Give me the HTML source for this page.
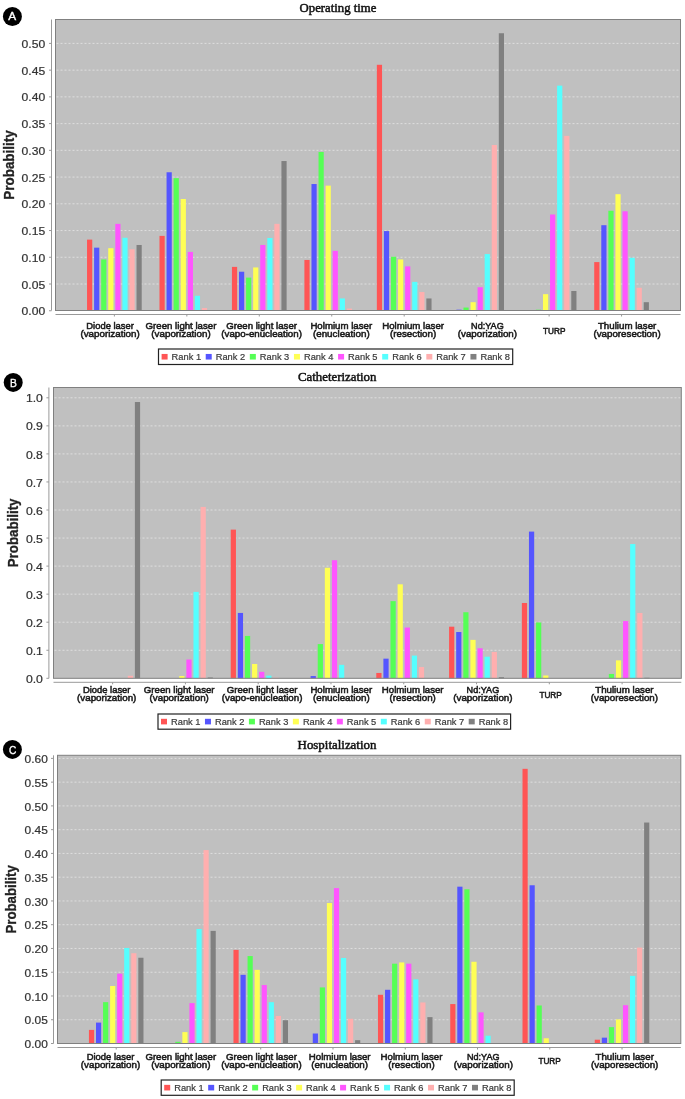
<!DOCTYPE html>
<html><head><meta charset="utf-8"><title>Charts</title><style>
html,body{margin:0;padding:0;background:#fff;}
body{width:685px;height:1099px;overflow:hidden;}
svg{display:block;will-change:transform;}
.tl{font-family:"Liberation Sans",sans-serif;font-size:10.6px;fill:#333;stroke:#333;stroke-width:0.2px;text-anchor:end;}
.cl{font-family:"Liberation Sans",sans-serif;font-size:9.8px;fill:#1a1a1a;stroke:#1a1a1a;stroke-width:0.55px;text-anchor:middle;}
.al{font-family:"Liberation Sans",sans-serif;font-size:14.4px;font-weight:bold;fill:#222;stroke:#222;stroke-width:0.3px;text-anchor:middle;}
.tt{font-family:"Liberation Serif",serif;font-size:13px;fill:#111;stroke:#111;stroke-width:0.5px;text-anchor:middle;}
.cc{font-family:"Liberation Sans",sans-serif;font-size:11.8px;fill:#fff;stroke:#fff;stroke-width:0.35px;text-anchor:middle;}
.lg{font-family:"Liberation Sans",sans-serif;font-size:9.3px;fill:#3a3a3a;stroke:#3a3a3a;stroke-width:0.2px;}
</style></head>
<body>
<svg width="685" height="1099" viewBox="0 0 685 1099">
<rect x="0" y="0" width="685" height="1099" fill="#fff"/>
<rect x="55.5" y="19.5" width="625.00" height="291.00" fill="#c0c0c0"/>
<line x1="56.5" y1="284.01" x2="679.5" y2="284.01" stroke="#dedede" stroke-width="1" stroke-dasharray="2,2"/>
<line x1="56.5" y1="257.28" x2="679.5" y2="257.28" stroke="#dedede" stroke-width="1" stroke-dasharray="2,2"/>
<line x1="56.5" y1="230.54" x2="679.5" y2="230.54" stroke="#dedede" stroke-width="1" stroke-dasharray="2,2"/>
<line x1="56.5" y1="203.81" x2="679.5" y2="203.81" stroke="#dedede" stroke-width="1" stroke-dasharray="2,2"/>
<line x1="56.5" y1="177.07" x2="679.5" y2="177.07" stroke="#dedede" stroke-width="1" stroke-dasharray="2,2"/>
<line x1="56.5" y1="150.34" x2="679.5" y2="150.34" stroke="#dedede" stroke-width="1" stroke-dasharray="2,2"/>
<line x1="56.5" y1="123.60" x2="679.5" y2="123.60" stroke="#dedede" stroke-width="1" stroke-dasharray="2,2"/>
<line x1="56.5" y1="96.87" x2="679.5" y2="96.87" stroke="#dedede" stroke-width="1" stroke-dasharray="2,2"/>
<line x1="56.5" y1="70.13" x2="679.5" y2="70.13" stroke="#dedede" stroke-width="1" stroke-dasharray="2,2"/>
<line x1="56.5" y1="43.40" x2="679.5" y2="43.40" stroke="#dedede" stroke-width="1" stroke-dasharray="2,2"/>
<rect x="87.03" y="239.63" width="5.20" height="71.12" fill="#ff5555"/>
<rect x="94.10" y="247.66" width="5.20" height="63.09" fill="#5555ff"/>
<rect x="101.17" y="259.42" width="5.20" height="51.33" fill="#55ff55"/>
<rect x="108.24" y="248.19" width="5.20" height="62.56" fill="#ffff55"/>
<rect x="115.31" y="223.86" width="5.20" height="86.89" fill="#ff55ff"/>
<rect x="122.38" y="237.76" width="5.20" height="72.99" fill="#55ffff"/>
<rect x="129.45" y="249.26" width="5.20" height="61.49" fill="#ffafaf"/>
<rect x="136.52" y="244.98" width="5.20" height="65.77" fill="#808080"/>
<rect x="159.49" y="235.89" width="5.20" height="74.86" fill="#ff5555"/>
<rect x="166.56" y="172.26" width="5.20" height="138.49" fill="#5555ff"/>
<rect x="173.63" y="178.14" width="5.20" height="132.61" fill="#55ff55"/>
<rect x="180.70" y="199.00" width="5.20" height="111.75" fill="#ffff55"/>
<rect x="187.77" y="251.93" width="5.20" height="58.82" fill="#ff55ff"/>
<rect x="194.84" y="295.78" width="5.20" height="14.97" fill="#55ffff"/>
<rect x="201.91" y="308.08" width="5.20" height="2.67" fill="#ffafaf"/>
<rect x="231.94" y="266.90" width="5.20" height="43.85" fill="#ff5555"/>
<rect x="239.01" y="271.72" width="5.20" height="39.03" fill="#5555ff"/>
<rect x="246.08" y="277.60" width="5.20" height="33.15" fill="#55ff55"/>
<rect x="253.15" y="267.44" width="5.20" height="43.31" fill="#ffff55"/>
<rect x="260.22" y="244.98" width="5.20" height="65.77" fill="#ff55ff"/>
<rect x="267.29" y="238.03" width="5.20" height="72.72" fill="#55ffff"/>
<rect x="274.36" y="223.86" width="5.20" height="86.89" fill="#ffafaf"/>
<rect x="281.43" y="161.03" width="5.20" height="149.72" fill="#808080"/>
<rect x="304.40" y="259.95" width="5.20" height="50.80" fill="#ff5555"/>
<rect x="311.47" y="184.03" width="5.20" height="126.72" fill="#5555ff"/>
<rect x="318.54" y="151.94" width="5.20" height="158.81" fill="#55ff55"/>
<rect x="325.61" y="185.63" width="5.20" height="125.12" fill="#ffff55"/>
<rect x="332.68" y="250.86" width="5.20" height="59.89" fill="#ff55ff"/>
<rect x="339.75" y="298.45" width="5.20" height="12.30" fill="#55ffff"/>
<rect x="346.82" y="308.61" width="5.20" height="2.14" fill="#ffafaf"/>
<rect x="376.85" y="64.79" width="5.20" height="245.96" fill="#ff5555"/>
<rect x="383.92" y="231.08" width="5.20" height="79.67" fill="#5555ff"/>
<rect x="390.99" y="256.75" width="5.20" height="54.00" fill="#55ff55"/>
<rect x="398.06" y="259.42" width="5.20" height="51.33" fill="#ffff55"/>
<rect x="405.13" y="266.37" width="5.20" height="44.38" fill="#ff55ff"/>
<rect x="412.20" y="281.88" width="5.20" height="28.87" fill="#55ffff"/>
<rect x="419.27" y="292.04" width="5.20" height="18.71" fill="#ffafaf"/>
<rect x="426.34" y="298.45" width="5.20" height="12.30" fill="#808080"/>
<rect x="456.38" y="309.68" width="5.20" height="1.07" fill="#5555ff"/>
<rect x="463.45" y="307.54" width="5.20" height="3.21" fill="#55ff55"/>
<rect x="470.52" y="302.19" width="5.20" height="8.56" fill="#ffff55"/>
<rect x="477.59" y="287.22" width="5.20" height="23.53" fill="#ff55ff"/>
<rect x="484.66" y="254.07" width="5.20" height="56.68" fill="#55ffff"/>
<rect x="491.73" y="144.99" width="5.20" height="165.76" fill="#ffafaf"/>
<rect x="498.80" y="33.24" width="5.20" height="277.51" fill="#808080"/>
<rect x="535.91" y="309.68" width="5.20" height="1.07" fill="#55ff55"/>
<rect x="542.98" y="294.17" width="5.20" height="16.58" fill="#ffff55"/>
<rect x="550.05" y="214.50" width="5.20" height="96.25" fill="#ff55ff"/>
<rect x="557.12" y="85.64" width="5.20" height="225.11" fill="#55ffff"/>
<rect x="564.19" y="135.90" width="5.20" height="174.85" fill="#ffafaf"/>
<rect x="571.26" y="290.97" width="5.20" height="19.78" fill="#808080"/>
<rect x="594.22" y="262.09" width="5.20" height="48.66" fill="#ff5555"/>
<rect x="601.29" y="225.20" width="5.20" height="85.55" fill="#5555ff"/>
<rect x="608.36" y="210.76" width="5.20" height="99.99" fill="#55ff55"/>
<rect x="615.43" y="194.19" width="5.20" height="116.56" fill="#ffff55"/>
<rect x="622.50" y="211.30" width="5.20" height="99.45" fill="#ff55ff"/>
<rect x="629.57" y="257.81" width="5.20" height="52.94" fill="#55ffff"/>
<rect x="636.64" y="287.76" width="5.20" height="22.99" fill="#ffafaf"/>
<rect x="643.71" y="302.19" width="5.20" height="8.56" fill="#808080"/>
<rect x="55.5" y="19.5" width="625.00" height="291.00" fill="none" stroke="#808080" stroke-width="1"/>
<line x1="51.5" y1="19.5" x2="51.5" y2="310.5" stroke="#999" stroke-width="1"/>
<line x1="49.0" y1="310.75" x2="51.5" y2="310.75" stroke="#999" stroke-width="1"/>
<text x="45.2" y="315.35" class="tl" textLength="23.6" lengthAdjust="spacingAndGlyphs">0.00</text>
<line x1="49.0" y1="284.01" x2="51.5" y2="284.01" stroke="#999" stroke-width="1"/>
<text x="45.2" y="288.62" class="tl" textLength="23.6" lengthAdjust="spacingAndGlyphs">0.05</text>
<line x1="49.0" y1="257.28" x2="51.5" y2="257.28" stroke="#999" stroke-width="1"/>
<text x="45.2" y="261.88" class="tl" textLength="23.6" lengthAdjust="spacingAndGlyphs">0.10</text>
<line x1="49.0" y1="230.54" x2="51.5" y2="230.54" stroke="#999" stroke-width="1"/>
<text x="45.2" y="235.14" class="tl" textLength="23.6" lengthAdjust="spacingAndGlyphs">0.15</text>
<line x1="49.0" y1="203.81" x2="51.5" y2="203.81" stroke="#999" stroke-width="1"/>
<text x="45.2" y="208.41" class="tl" textLength="23.6" lengthAdjust="spacingAndGlyphs">0.20</text>
<line x1="49.0" y1="177.07" x2="51.5" y2="177.07" stroke="#999" stroke-width="1"/>
<text x="45.2" y="181.67" class="tl" textLength="23.6" lengthAdjust="spacingAndGlyphs">0.25</text>
<line x1="49.0" y1="150.34" x2="51.5" y2="150.34" stroke="#999" stroke-width="1"/>
<text x="45.2" y="154.94" class="tl" textLength="23.6" lengthAdjust="spacingAndGlyphs">0.30</text>
<line x1="49.0" y1="123.60" x2="51.5" y2="123.60" stroke="#999" stroke-width="1"/>
<text x="45.2" y="128.20" class="tl" textLength="23.6" lengthAdjust="spacingAndGlyphs">0.35</text>
<line x1="49.0" y1="96.87" x2="51.5" y2="96.87" stroke="#999" stroke-width="1"/>
<text x="45.2" y="101.47" class="tl" textLength="23.6" lengthAdjust="spacingAndGlyphs">0.40</text>
<line x1="49.0" y1="70.13" x2="51.5" y2="70.13" stroke="#999" stroke-width="1"/>
<text x="45.2" y="74.73" class="tl" textLength="23.6" lengthAdjust="spacingAndGlyphs">0.45</text>
<line x1="49.0" y1="43.40" x2="51.5" y2="43.40" stroke="#999" stroke-width="1"/>
<text x="45.2" y="48.00" class="tl" textLength="23.6" lengthAdjust="spacingAndGlyphs">0.50</text>
<line x1="55.5" y1="314.5" x2="680.5" y2="314.5" stroke="#999" stroke-width="1"/>
<line x1="114.38" y1="314.5" x2="114.38" y2="316.5" stroke="#999" stroke-width="1"/>
<text x="110.10" y="329.0" class="cl" textLength="47.6" lengthAdjust="spacingAndGlyphs">Diode laser</text>
<text x="110.10" y="336.90" class="cl" textLength="59.3" lengthAdjust="spacingAndGlyphs">(vaporization)</text>
<line x1="186.83" y1="314.5" x2="186.83" y2="316.5" stroke="#999" stroke-width="1"/>
<text x="181.00" y="329.0" class="cl" textLength="70.8" lengthAdjust="spacingAndGlyphs">Green light laser</text>
<text x="181.00" y="336.90" class="cl" textLength="59.3" lengthAdjust="spacingAndGlyphs">(vaporization)</text>
<line x1="259.29" y1="314.5" x2="259.29" y2="316.5" stroke="#999" stroke-width="1"/>
<text x="261.60" y="329.0" class="cl" textLength="70.8" lengthAdjust="spacingAndGlyphs">Green light laser</text>
<text x="261.60" y="336.90" class="cl" textLength="80.6" lengthAdjust="spacingAndGlyphs">(vapo-enucleation)</text>
<line x1="331.74" y1="314.5" x2="331.74" y2="316.5" stroke="#999" stroke-width="1"/>
<text x="341.30" y="329.0" class="cl" textLength="61.8" lengthAdjust="spacingAndGlyphs">Holmium laser</text>
<text x="341.30" y="336.90" class="cl" textLength="56.8" lengthAdjust="spacingAndGlyphs">(enucleation)</text>
<line x1="404.20" y1="314.5" x2="404.20" y2="316.5" stroke="#999" stroke-width="1"/>
<text x="413.10" y="329.0" class="cl" textLength="61.8" lengthAdjust="spacingAndGlyphs">Holmium laser</text>
<text x="413.10" y="336.90" class="cl" textLength="46.3" lengthAdjust="spacingAndGlyphs">(resection)</text>
<line x1="476.66" y1="314.5" x2="476.66" y2="316.5" stroke="#999" stroke-width="1"/>
<text x="487.40" y="329.0" class="cl" textLength="32.6" lengthAdjust="spacingAndGlyphs">Nd:YAG</text>
<text x="487.40" y="336.90" class="cl" textLength="59.3" lengthAdjust="spacingAndGlyphs">(vaporization)</text>
<line x1="549.11" y1="314.5" x2="549.11" y2="316.5" stroke="#999" stroke-width="1"/>
<text x="554.20" y="333.65" class="cl" textLength="22.4" lengthAdjust="spacingAndGlyphs">TURP</text>
<line x1="621.57" y1="314.5" x2="621.57" y2="316.5" stroke="#999" stroke-width="1"/>
<text x="627.10" y="329.0" class="cl" textLength="58.4" lengthAdjust="spacingAndGlyphs">Thulium laser</text>
<text x="627.10" y="336.90" class="cl" textLength="67.3" lengthAdjust="spacingAndGlyphs">(vaporesection)</text>
<text transform="translate(14.1,165.00) rotate(-90)" class="al" textLength="69.3" lengthAdjust="spacingAndGlyphs">Probability</text>
<text x="338.0" y="11.8" class="tt" textLength="76.8" lengthAdjust="spacingAndGlyphs">Operating time</text>
<circle cx="12.4" cy="16.5" r="9.5" fill="#000"/>
<text x="12.2" y="19.9" class="cc" textLength="7.9" lengthAdjust="spacingAndGlyphs">A</text>
<rect x="158.5" y="349" width="354.20" height="15.50" fill="#fff" stroke="#222" stroke-width="1.2"/>
<rect x="161.60" y="353.95" width="6" height="5.6" fill="#ff5555"/>
<text x="171.60" y="360.15" class="lg">Rank 1</text>
<rect x="205.72" y="353.95" width="6" height="5.6" fill="#5555ff"/>
<text x="215.72" y="360.15" class="lg">Rank 2</text>
<rect x="249.84" y="353.95" width="6" height="5.6" fill="#55ff55"/>
<text x="259.84" y="360.15" class="lg">Rank 3</text>
<rect x="293.96" y="353.95" width="6" height="5.6" fill="#ffff55"/>
<text x="303.96" y="360.15" class="lg">Rank 4</text>
<rect x="338.08" y="353.95" width="6" height="5.6" fill="#ff55ff"/>
<text x="348.08" y="360.15" class="lg">Rank 5</text>
<rect x="382.20" y="353.95" width="6" height="5.6" fill="#55ffff"/>
<text x="392.20" y="360.15" class="lg">Rank 6</text>
<rect x="426.32" y="353.95" width="6" height="5.6" fill="#ffafaf"/>
<text x="436.32" y="360.15" class="lg">Rank 7</text>
<rect x="470.44" y="353.95" width="6" height="5.6" fill="#808080"/>
<text x="480.44" y="360.15" class="lg">Rank 8</text>
<rect x="53.5" y="387.5" width="627.80" height="290.80" fill="#c0c0c0"/>
<line x1="54.5" y1="650.25" x2="680.3" y2="650.25" stroke="#dedede" stroke-width="1" stroke-dasharray="2,2"/>
<line x1="54.5" y1="622.20" x2="680.3" y2="622.20" stroke="#dedede" stroke-width="1" stroke-dasharray="2,2"/>
<line x1="54.5" y1="594.15" x2="680.3" y2="594.15" stroke="#dedede" stroke-width="1" stroke-dasharray="2,2"/>
<line x1="54.5" y1="566.10" x2="680.3" y2="566.10" stroke="#dedede" stroke-width="1" stroke-dasharray="2,2"/>
<line x1="54.5" y1="538.05" x2="680.3" y2="538.05" stroke="#dedede" stroke-width="1" stroke-dasharray="2,2"/>
<line x1="54.5" y1="510.00" x2="680.3" y2="510.00" stroke="#dedede" stroke-width="1" stroke-dasharray="2,2"/>
<line x1="54.5" y1="481.95" x2="680.3" y2="481.95" stroke="#dedede" stroke-width="1" stroke-dasharray="2,2"/>
<line x1="54.5" y1="453.90" x2="680.3" y2="453.90" stroke="#dedede" stroke-width="1" stroke-dasharray="2,2"/>
<line x1="54.5" y1="425.85" x2="680.3" y2="425.85" stroke="#dedede" stroke-width="1" stroke-dasharray="2,2"/>
<line x1="54.5" y1="397.80" x2="680.3" y2="397.80" stroke="#dedede" stroke-width="1" stroke-dasharray="2,2"/>
<rect x="127.78" y="675.78" width="5.22" height="2.52" fill="#ffafaf"/>
<rect x="134.88" y="402.01" width="5.22" height="276.29" fill="#808080"/>
<rect x="179.26" y="676.06" width="5.22" height="2.24" fill="#ffff55"/>
<rect x="186.36" y="659.51" width="5.22" height="18.79" fill="#ff55ff"/>
<rect x="193.46" y="591.91" width="5.22" height="86.39" fill="#55ffff"/>
<rect x="200.56" y="506.91" width="5.22" height="171.39" fill="#ffafaf"/>
<rect x="207.66" y="677.46" width="5.22" height="0.84" fill="#808080"/>
<rect x="230.73" y="529.63" width="5.22" height="148.67" fill="#ff5555"/>
<rect x="237.83" y="612.94" width="5.22" height="65.36" fill="#5555ff"/>
<rect x="244.94" y="635.94" width="5.22" height="42.36" fill="#55ff55"/>
<rect x="252.04" y="663.99" width="5.22" height="14.31" fill="#ffff55"/>
<rect x="259.14" y="671.85" width="5.22" height="6.45" fill="#ff55ff"/>
<rect x="266.24" y="675.64" width="5.22" height="2.66" fill="#55ffff"/>
<rect x="273.34" y="677.74" width="5.22" height="0.56" fill="#ffafaf"/>
<rect x="310.62" y="676.06" width="5.22" height="2.24" fill="#5555ff"/>
<rect x="317.72" y="644.08" width="5.22" height="34.22" fill="#55ff55"/>
<rect x="324.82" y="567.78" width="5.22" height="110.52" fill="#ffff55"/>
<rect x="331.92" y="560.21" width="5.22" height="118.09" fill="#ff55ff"/>
<rect x="339.02" y="664.84" width="5.22" height="13.46" fill="#55ffff"/>
<rect x="376.29" y="672.97" width="5.22" height="5.33" fill="#ff5555"/>
<rect x="383.40" y="658.66" width="5.22" height="19.64" fill="#5555ff"/>
<rect x="390.50" y="601.16" width="5.22" height="77.14" fill="#55ff55"/>
<rect x="397.60" y="584.33" width="5.22" height="93.97" fill="#ffff55"/>
<rect x="404.70" y="627.53" width="5.22" height="50.77" fill="#ff55ff"/>
<rect x="411.80" y="655.58" width="5.22" height="22.72" fill="#55ffff"/>
<rect x="418.90" y="667.08" width="5.22" height="11.22" fill="#ffafaf"/>
<rect x="449.08" y="626.69" width="5.22" height="51.61" fill="#ff5555"/>
<rect x="456.18" y="632.02" width="5.22" height="46.28" fill="#5555ff"/>
<rect x="463.28" y="612.24" width="5.22" height="66.06" fill="#55ff55"/>
<rect x="470.38" y="639.87" width="5.22" height="38.43" fill="#ffff55"/>
<rect x="477.48" y="648.29" width="5.22" height="30.01" fill="#ff55ff"/>
<rect x="484.58" y="656.70" width="5.22" height="21.60" fill="#55ffff"/>
<rect x="491.69" y="651.93" width="5.22" height="26.37" fill="#ffafaf"/>
<rect x="498.79" y="677.18" width="5.22" height="1.12" fill="#808080"/>
<rect x="521.86" y="602.99" width="5.22" height="75.31" fill="#ff5555"/>
<rect x="528.96" y="531.60" width="5.22" height="146.70" fill="#5555ff"/>
<rect x="536.06" y="622.48" width="5.22" height="55.82" fill="#55ff55"/>
<rect x="543.16" y="675.50" width="5.22" height="2.81" fill="#ffff55"/>
<rect x="608.84" y="673.95" width="5.22" height="4.35" fill="#55ff55"/>
<rect x="615.94" y="660.35" width="5.22" height="17.95" fill="#ffff55"/>
<rect x="623.04" y="621.08" width="5.22" height="57.22" fill="#ff55ff"/>
<rect x="630.15" y="544.08" width="5.22" height="134.22" fill="#55ffff"/>
<rect x="637.25" y="612.94" width="5.22" height="65.36" fill="#ffafaf"/>
<rect x="644.35" y="677.74" width="5.22" height="0.56" fill="#808080"/>
<rect x="53.5" y="387.5" width="627.80" height="290.80" fill="none" stroke="#808080" stroke-width="1"/>
<line x1="48.9" y1="387.5" x2="48.9" y2="678.3" stroke="#999" stroke-width="1"/>
<line x1="46.4" y1="678.30" x2="48.9" y2="678.30" stroke="#999" stroke-width="1"/>
<text x="42.9" y="682.90" class="tl" textLength="17.0" lengthAdjust="spacingAndGlyphs">0.0</text>
<line x1="46.4" y1="650.25" x2="48.9" y2="650.25" stroke="#999" stroke-width="1"/>
<text x="42.9" y="654.85" class="tl" textLength="17.0" lengthAdjust="spacingAndGlyphs">0.1</text>
<line x1="46.4" y1="622.20" x2="48.9" y2="622.20" stroke="#999" stroke-width="1"/>
<text x="42.9" y="626.80" class="tl" textLength="17.0" lengthAdjust="spacingAndGlyphs">0.2</text>
<line x1="46.4" y1="594.15" x2="48.9" y2="594.15" stroke="#999" stroke-width="1"/>
<text x="42.9" y="598.75" class="tl" textLength="17.0" lengthAdjust="spacingAndGlyphs">0.3</text>
<line x1="46.4" y1="566.10" x2="48.9" y2="566.10" stroke="#999" stroke-width="1"/>
<text x="42.9" y="570.70" class="tl" textLength="17.0" lengthAdjust="spacingAndGlyphs">0.4</text>
<line x1="46.4" y1="538.05" x2="48.9" y2="538.05" stroke="#999" stroke-width="1"/>
<text x="42.9" y="542.65" class="tl" textLength="17.0" lengthAdjust="spacingAndGlyphs">0.5</text>
<line x1="46.4" y1="510.00" x2="48.9" y2="510.00" stroke="#999" stroke-width="1"/>
<text x="42.9" y="514.60" class="tl" textLength="17.0" lengthAdjust="spacingAndGlyphs">0.6</text>
<line x1="46.4" y1="481.95" x2="48.9" y2="481.95" stroke="#999" stroke-width="1"/>
<text x="42.9" y="486.55" class="tl" textLength="17.0" lengthAdjust="spacingAndGlyphs">0.7</text>
<line x1="46.4" y1="453.90" x2="48.9" y2="453.90" stroke="#999" stroke-width="1"/>
<text x="42.9" y="458.50" class="tl" textLength="17.0" lengthAdjust="spacingAndGlyphs">0.8</text>
<line x1="46.4" y1="425.85" x2="48.9" y2="425.85" stroke="#999" stroke-width="1"/>
<text x="42.9" y="430.45" class="tl" textLength="17.0" lengthAdjust="spacingAndGlyphs">0.9</text>
<line x1="46.4" y1="397.80" x2="48.9" y2="397.80" stroke="#999" stroke-width="1"/>
<text x="42.9" y="402.40" class="tl" textLength="17.0" lengthAdjust="spacingAndGlyphs">1.0</text>
<line x1="53.5" y1="682.3" x2="681.3" y2="682.3" stroke="#999" stroke-width="1"/>
<line x1="112.64" y1="682.3" x2="112.64" y2="684.3" stroke="#999" stroke-width="1"/>
<text x="106.70" y="692.8" class="cl" textLength="47.6" lengthAdjust="spacingAndGlyphs">Diode laser</text>
<text x="106.70" y="701.00" class="cl" textLength="59.3" lengthAdjust="spacingAndGlyphs">(vaporization)</text>
<line x1="185.42" y1="682.3" x2="185.42" y2="684.3" stroke="#999" stroke-width="1"/>
<text x="179.20" y="692.8" class="cl" textLength="70.8" lengthAdjust="spacingAndGlyphs">Green light laser</text>
<text x="179.20" y="701.00" class="cl" textLength="59.3" lengthAdjust="spacingAndGlyphs">(vaporization)</text>
<line x1="258.20" y1="682.3" x2="258.20" y2="684.3" stroke="#999" stroke-width="1"/>
<text x="262.10" y="692.8" class="cl" textLength="70.8" lengthAdjust="spacingAndGlyphs">Green light laser</text>
<text x="262.10" y="701.00" class="cl" textLength="80.6" lengthAdjust="spacingAndGlyphs">(vapo-enucleation)</text>
<line x1="330.98" y1="682.3" x2="330.98" y2="684.3" stroke="#999" stroke-width="1"/>
<text x="341.30" y="692.8" class="cl" textLength="61.8" lengthAdjust="spacingAndGlyphs">Holmium laser</text>
<text x="341.30" y="701.00" class="cl" textLength="56.8" lengthAdjust="spacingAndGlyphs">(enucleation)</text>
<line x1="403.76" y1="682.3" x2="403.76" y2="684.3" stroke="#999" stroke-width="1"/>
<text x="412.70" y="692.8" class="cl" textLength="61.8" lengthAdjust="spacingAndGlyphs">Holmium laser</text>
<text x="412.70" y="701.00" class="cl" textLength="46.3" lengthAdjust="spacingAndGlyphs">(resection)</text>
<line x1="476.54" y1="682.3" x2="476.54" y2="684.3" stroke="#999" stroke-width="1"/>
<text x="482.90" y="692.8" class="cl" textLength="32.6" lengthAdjust="spacingAndGlyphs">Nd:YAG</text>
<text x="482.90" y="701.00" class="cl" textLength="59.3" lengthAdjust="spacingAndGlyphs">(vaporization)</text>
<line x1="549.32" y1="682.3" x2="549.32" y2="684.3" stroke="#999" stroke-width="1"/>
<text x="550.60" y="697.60" class="cl" textLength="22.4" lengthAdjust="spacingAndGlyphs">TURP</text>
<line x1="622.10" y1="682.3" x2="622.10" y2="684.3" stroke="#999" stroke-width="1"/>
<text x="624.40" y="692.8" class="cl" textLength="58.4" lengthAdjust="spacingAndGlyphs">Thulium laser</text>
<text x="624.40" y="701.00" class="cl" textLength="67.3" lengthAdjust="spacingAndGlyphs">(vaporesection)</text>
<text transform="translate(18.2,532.90) rotate(-90)" class="al" textLength="68.8" lengthAdjust="spacingAndGlyphs">Probability</text>
<text x="337.2" y="380.7" class="tt" textLength="78.4" lengthAdjust="spacingAndGlyphs">Catheterization</text>
<circle cx="13.2" cy="382.4" r="9.5" fill="#000"/>
<text x="13.35" y="386.9" class="cc" textLength="6.9" lengthAdjust="spacingAndGlyphs">B</text>
<rect x="158" y="714" width="352.60" height="15.20" fill="#fff" stroke="#222" stroke-width="1.2"/>
<rect x="161.00" y="718.80" width="6" height="5.6" fill="#ff5555"/>
<text x="171.00" y="725.00" class="lg">Rank 1</text>
<rect x="204.96" y="718.80" width="6" height="5.6" fill="#5555ff"/>
<text x="214.96" y="725.00" class="lg">Rank 2</text>
<rect x="248.92" y="718.80" width="6" height="5.6" fill="#55ff55"/>
<text x="258.92" y="725.00" class="lg">Rank 3</text>
<rect x="292.88" y="718.80" width="6" height="5.6" fill="#ffff55"/>
<text x="302.88" y="725.00" class="lg">Rank 4</text>
<rect x="336.84" y="718.80" width="6" height="5.6" fill="#ff55ff"/>
<text x="346.84" y="725.00" class="lg">Rank 5</text>
<rect x="380.80" y="718.80" width="6" height="5.6" fill="#55ffff"/>
<text x="390.80" y="725.00" class="lg">Rank 6</text>
<rect x="424.76" y="718.80" width="6" height="5.6" fill="#ffafaf"/>
<text x="434.76" y="725.00" class="lg">Rank 7</text>
<rect x="468.72" y="718.80" width="6" height="5.6" fill="#808080"/>
<text x="478.72" y="725.00" class="lg">Rank 8</text>
<rect x="57.5" y="755.3" width="623.30" height="288.20" fill="#c0c0c0"/>
<line x1="58.5" y1="1019.74" x2="679.8" y2="1019.74" stroke="#dedede" stroke-width="1" stroke-dasharray="2,2"/>
<line x1="58.5" y1="995.98" x2="679.8" y2="995.98" stroke="#dedede" stroke-width="1" stroke-dasharray="2,2"/>
<line x1="58.5" y1="972.22" x2="679.8" y2="972.22" stroke="#dedede" stroke-width="1" stroke-dasharray="2,2"/>
<line x1="58.5" y1="948.46" x2="679.8" y2="948.46" stroke="#dedede" stroke-width="1" stroke-dasharray="2,2"/>
<line x1="58.5" y1="924.70" x2="679.8" y2="924.70" stroke="#dedede" stroke-width="1" stroke-dasharray="2,2"/>
<line x1="58.5" y1="900.94" x2="679.8" y2="900.94" stroke="#dedede" stroke-width="1" stroke-dasharray="2,2"/>
<line x1="58.5" y1="877.18" x2="679.8" y2="877.18" stroke="#dedede" stroke-width="1" stroke-dasharray="2,2"/>
<line x1="58.5" y1="853.42" x2="679.8" y2="853.42" stroke="#dedede" stroke-width="1" stroke-dasharray="2,2"/>
<line x1="58.5" y1="829.66" x2="679.8" y2="829.66" stroke="#dedede" stroke-width="1" stroke-dasharray="2,2"/>
<line x1="58.5" y1="805.90" x2="679.8" y2="805.90" stroke="#dedede" stroke-width="1" stroke-dasharray="2,2"/>
<line x1="58.5" y1="782.14" x2="679.8" y2="782.14" stroke="#dedede" stroke-width="1" stroke-dasharray="2,2"/>
<line x1="58.5" y1="758.38" x2="679.8" y2="758.38" stroke="#dedede" stroke-width="1" stroke-dasharray="2,2"/>
<rect x="88.94" y="1029.91" width="5.19" height="13.59" fill="#ff5555"/>
<rect x="96.00" y="1022.59" width="5.19" height="20.91" fill="#5555ff"/>
<rect x="103.05" y="1002.16" width="5.19" height="41.34" fill="#55ff55"/>
<rect x="110.10" y="986.00" width="5.19" height="57.50" fill="#ffff55"/>
<rect x="117.15" y="973.65" width="5.19" height="69.85" fill="#ff55ff"/>
<rect x="124.20" y="947.98" width="5.19" height="95.52" fill="#55ffff"/>
<rect x="131.25" y="953.21" width="5.19" height="90.29" fill="#ffafaf"/>
<rect x="138.30" y="957.73" width="5.19" height="85.77" fill="#808080"/>
<rect x="175.30" y="1041.79" width="5.19" height="1.71" fill="#55ff55"/>
<rect x="182.36" y="1032.10" width="5.19" height="11.40" fill="#ffff55"/>
<rect x="189.41" y="1003.11" width="5.19" height="40.39" fill="#ff55ff"/>
<rect x="196.46" y="928.98" width="5.19" height="114.52" fill="#55ffff"/>
<rect x="203.51" y="850.09" width="5.19" height="193.41" fill="#ffafaf"/>
<rect x="210.56" y="930.88" width="5.19" height="112.62" fill="#808080"/>
<rect x="233.46" y="949.89" width="5.19" height="93.61" fill="#ff5555"/>
<rect x="240.51" y="974.83" width="5.19" height="68.67" fill="#5555ff"/>
<rect x="247.56" y="956.06" width="5.19" height="87.44" fill="#55ff55"/>
<rect x="254.61" y="969.84" width="5.19" height="73.66" fill="#ffff55"/>
<rect x="261.67" y="985.05" width="5.19" height="58.45" fill="#ff55ff"/>
<rect x="268.72" y="1002.16" width="5.19" height="41.34" fill="#55ffff"/>
<rect x="275.77" y="1015.94" width="5.19" height="27.56" fill="#ffafaf"/>
<rect x="282.82" y="1020.22" width="5.19" height="23.28" fill="#808080"/>
<rect x="312.77" y="1033.52" width="5.19" height="9.98" fill="#5555ff"/>
<rect x="319.82" y="987.43" width="5.19" height="56.07" fill="#55ff55"/>
<rect x="326.87" y="903.03" width="5.19" height="140.47" fill="#ffff55"/>
<rect x="333.92" y="888.11" width="5.19" height="155.39" fill="#ff55ff"/>
<rect x="340.98" y="957.96" width="5.19" height="85.54" fill="#55ffff"/>
<rect x="348.03" y="1018.79" width="5.19" height="24.71" fill="#ffafaf"/>
<rect x="355.08" y="1040.17" width="5.19" height="3.33" fill="#808080"/>
<rect x="377.98" y="994.79" width="5.19" height="48.71" fill="#ff5555"/>
<rect x="385.03" y="989.80" width="5.19" height="53.70" fill="#5555ff"/>
<rect x="392.08" y="963.67" width="5.19" height="79.83" fill="#55ff55"/>
<rect x="399.13" y="962.43" width="5.19" height="81.07" fill="#ffff55"/>
<rect x="406.18" y="963.67" width="5.19" height="79.83" fill="#ff55ff"/>
<rect x="413.23" y="979.35" width="5.19" height="64.15" fill="#55ffff"/>
<rect x="420.29" y="1002.44" width="5.19" height="41.06" fill="#ffafaf"/>
<rect x="427.34" y="1017.13" width="5.19" height="26.37" fill="#808080"/>
<rect x="450.24" y="1004.06" width="5.19" height="39.44" fill="#ff5555"/>
<rect x="457.29" y="886.68" width="5.19" height="156.82" fill="#5555ff"/>
<rect x="464.34" y="889.30" width="5.19" height="154.20" fill="#55ff55"/>
<rect x="471.39" y="961.77" width="5.19" height="81.73" fill="#ffff55"/>
<rect x="478.44" y="1012.37" width="5.19" height="31.13" fill="#ff55ff"/>
<rect x="485.49" y="1035.71" width="5.19" height="7.79" fill="#55ffff"/>
<rect x="492.54" y="1043.02" width="5.19" height="0.48" fill="#ffafaf"/>
<rect x="522.50" y="768.83" width="5.19" height="274.67" fill="#ff5555"/>
<rect x="529.55" y="885.26" width="5.19" height="158.24" fill="#5555ff"/>
<rect x="536.60" y="1005.48" width="5.19" height="38.02" fill="#55ff55"/>
<rect x="543.65" y="1038.27" width="5.19" height="5.23" fill="#ffff55"/>
<rect x="594.76" y="1039.70" width="5.19" height="3.80" fill="#ff5555"/>
<rect x="601.81" y="1037.66" width="5.19" height="5.84" fill="#5555ff"/>
<rect x="608.86" y="1027.15" width="5.19" height="16.35" fill="#55ff55"/>
<rect x="615.91" y="1019.41" width="5.19" height="24.09" fill="#ffff55"/>
<rect x="622.96" y="1005.20" width="5.19" height="38.30" fill="#ff55ff"/>
<rect x="630.01" y="975.88" width="5.19" height="67.62" fill="#55ffff"/>
<rect x="637.06" y="947.60" width="5.19" height="95.90" fill="#ffafaf"/>
<rect x="644.11" y="822.53" width="5.19" height="220.97" fill="#808080"/>
<rect x="57.5" y="755.3" width="623.30" height="288.20" fill="none" stroke="#808080" stroke-width="1"/>
<line x1="53.5" y1="755.3" x2="53.5" y2="1043.5" stroke="#999" stroke-width="1"/>
<line x1="51.0" y1="1043.50" x2="53.5" y2="1043.50" stroke="#999" stroke-width="1"/>
<text x="47.8" y="1048.10" class="tl" textLength="23.2" lengthAdjust="spacingAndGlyphs">0.00</text>
<line x1="51.0" y1="1019.74" x2="53.5" y2="1019.74" stroke="#999" stroke-width="1"/>
<text x="47.8" y="1024.34" class="tl" textLength="23.2" lengthAdjust="spacingAndGlyphs">0.05</text>
<line x1="51.0" y1="995.98" x2="53.5" y2="995.98" stroke="#999" stroke-width="1"/>
<text x="47.8" y="1000.58" class="tl" textLength="23.2" lengthAdjust="spacingAndGlyphs">0.10</text>
<line x1="51.0" y1="972.22" x2="53.5" y2="972.22" stroke="#999" stroke-width="1"/>
<text x="47.8" y="976.82" class="tl" textLength="23.2" lengthAdjust="spacingAndGlyphs">0.15</text>
<line x1="51.0" y1="948.46" x2="53.5" y2="948.46" stroke="#999" stroke-width="1"/>
<text x="47.8" y="953.06" class="tl" textLength="23.2" lengthAdjust="spacingAndGlyphs">0.20</text>
<line x1="51.0" y1="924.70" x2="53.5" y2="924.70" stroke="#999" stroke-width="1"/>
<text x="47.8" y="929.30" class="tl" textLength="23.2" lengthAdjust="spacingAndGlyphs">0.25</text>
<line x1="51.0" y1="900.94" x2="53.5" y2="900.94" stroke="#999" stroke-width="1"/>
<text x="47.8" y="905.54" class="tl" textLength="23.2" lengthAdjust="spacingAndGlyphs">0.30</text>
<line x1="51.0" y1="877.18" x2="53.5" y2="877.18" stroke="#999" stroke-width="1"/>
<text x="47.8" y="881.78" class="tl" textLength="23.2" lengthAdjust="spacingAndGlyphs">0.35</text>
<line x1="51.0" y1="853.42" x2="53.5" y2="853.42" stroke="#999" stroke-width="1"/>
<text x="47.8" y="858.02" class="tl" textLength="23.2" lengthAdjust="spacingAndGlyphs">0.40</text>
<line x1="51.0" y1="829.66" x2="53.5" y2="829.66" stroke="#999" stroke-width="1"/>
<text x="47.8" y="834.26" class="tl" textLength="23.2" lengthAdjust="spacingAndGlyphs">0.45</text>
<line x1="51.0" y1="805.90" x2="53.5" y2="805.90" stroke="#999" stroke-width="1"/>
<text x="47.8" y="810.50" class="tl" textLength="23.2" lengthAdjust="spacingAndGlyphs">0.50</text>
<line x1="51.0" y1="782.14" x2="53.5" y2="782.14" stroke="#999" stroke-width="1"/>
<text x="47.8" y="786.74" class="tl" textLength="23.2" lengthAdjust="spacingAndGlyphs">0.55</text>
<line x1="51.0" y1="758.38" x2="53.5" y2="758.38" stroke="#999" stroke-width="1"/>
<text x="47.8" y="762.98" class="tl" textLength="23.2" lengthAdjust="spacingAndGlyphs">0.60</text>
<line x1="57.5" y1="1047.5" x2="680.8" y2="1047.5" stroke="#999" stroke-width="1"/>
<line x1="116.21" y1="1047.5" x2="116.21" y2="1049.5" stroke="#999" stroke-width="1"/>
<text x="110.50" y="1059.7" class="cl" textLength="47.6" lengthAdjust="spacingAndGlyphs">Diode laser</text>
<text x="110.50" y="1067.80" class="cl" textLength="59.3" lengthAdjust="spacingAndGlyphs">(vaporization)</text>
<line x1="188.47" y1="1047.5" x2="188.47" y2="1049.5" stroke="#999" stroke-width="1"/>
<text x="180.80" y="1059.7" class="cl" textLength="70.8" lengthAdjust="spacingAndGlyphs">Green light laser</text>
<text x="180.80" y="1067.80" class="cl" textLength="59.3" lengthAdjust="spacingAndGlyphs">(vaporization)</text>
<line x1="260.73" y1="1047.5" x2="260.73" y2="1049.5" stroke="#999" stroke-width="1"/>
<text x="261.50" y="1059.7" class="cl" textLength="70.8" lengthAdjust="spacingAndGlyphs">Green light laser</text>
<text x="261.50" y="1067.80" class="cl" textLength="80.6" lengthAdjust="spacingAndGlyphs">(vapo-enucleation)</text>
<line x1="332.99" y1="1047.5" x2="332.99" y2="1049.5" stroke="#999" stroke-width="1"/>
<text x="339.70" y="1059.7" class="cl" textLength="61.8" lengthAdjust="spacingAndGlyphs">Holmium laser</text>
<text x="339.70" y="1067.80" class="cl" textLength="56.8" lengthAdjust="spacingAndGlyphs">(enucleation)</text>
<line x1="405.25" y1="1047.5" x2="405.25" y2="1049.5" stroke="#999" stroke-width="1"/>
<text x="411.50" y="1059.7" class="cl" textLength="61.8" lengthAdjust="spacingAndGlyphs">Holmium laser</text>
<text x="411.50" y="1067.80" class="cl" textLength="46.3" lengthAdjust="spacingAndGlyphs">(resection)</text>
<line x1="477.51" y1="1047.5" x2="477.51" y2="1049.5" stroke="#999" stroke-width="1"/>
<text x="483.30" y="1059.7" class="cl" textLength="32.6" lengthAdjust="spacingAndGlyphs">Nd:YAG</text>
<text x="483.30" y="1067.80" class="cl" textLength="59.3" lengthAdjust="spacingAndGlyphs">(vaporization)</text>
<line x1="549.77" y1="1047.5" x2="549.77" y2="1049.5" stroke="#999" stroke-width="1"/>
<text x="549.60" y="1064.45" class="cl" textLength="22.4" lengthAdjust="spacingAndGlyphs">TURP</text>
<line x1="622.03" y1="1047.5" x2="622.03" y2="1049.5" stroke="#999" stroke-width="1"/>
<text x="624.70" y="1059.7" class="cl" textLength="58.4" lengthAdjust="spacingAndGlyphs">Thulium laser</text>
<text x="624.70" y="1067.80" class="cl" textLength="67.3" lengthAdjust="spacingAndGlyphs">(vaporesection)</text>
<text transform="translate(15.9,899.40) rotate(-90)" class="al" textLength="68.4" lengthAdjust="spacingAndGlyphs">Probability</text>
<text x="337.0" y="748.9" class="tt" textLength="78.8" lengthAdjust="spacingAndGlyphs">Hospitalization</text>
<circle cx="12.4" cy="749.4" r="9.5" fill="#000"/>
<text x="12.6" y="753.6" class="cc" textLength="7.3" lengthAdjust="spacingAndGlyphs">C</text>
<rect x="161.2" y="1080" width="353.00" height="15.30" fill="#fff" stroke="#222" stroke-width="1.2"/>
<rect x="164.20" y="1084.85" width="6" height="5.6" fill="#ff5555"/>
<text x="174.20" y="1091.05" class="lg">Rank 1</text>
<rect x="208.17" y="1084.85" width="6" height="5.6" fill="#5555ff"/>
<text x="218.17" y="1091.05" class="lg">Rank 2</text>
<rect x="252.14" y="1084.85" width="6" height="5.6" fill="#55ff55"/>
<text x="262.14" y="1091.05" class="lg">Rank 3</text>
<rect x="296.11" y="1084.85" width="6" height="5.6" fill="#ffff55"/>
<text x="306.11" y="1091.05" class="lg">Rank 4</text>
<rect x="340.08" y="1084.85" width="6" height="5.6" fill="#ff55ff"/>
<text x="350.08" y="1091.05" class="lg">Rank 5</text>
<rect x="384.05" y="1084.85" width="6" height="5.6" fill="#55ffff"/>
<text x="394.05" y="1091.05" class="lg">Rank 6</text>
<rect x="428.02" y="1084.85" width="6" height="5.6" fill="#ffafaf"/>
<text x="438.02" y="1091.05" class="lg">Rank 7</text>
<rect x="471.99" y="1084.85" width="6" height="5.6" fill="#808080"/>
<text x="481.99" y="1091.05" class="lg">Rank 8</text>
</svg>
</body></html>
